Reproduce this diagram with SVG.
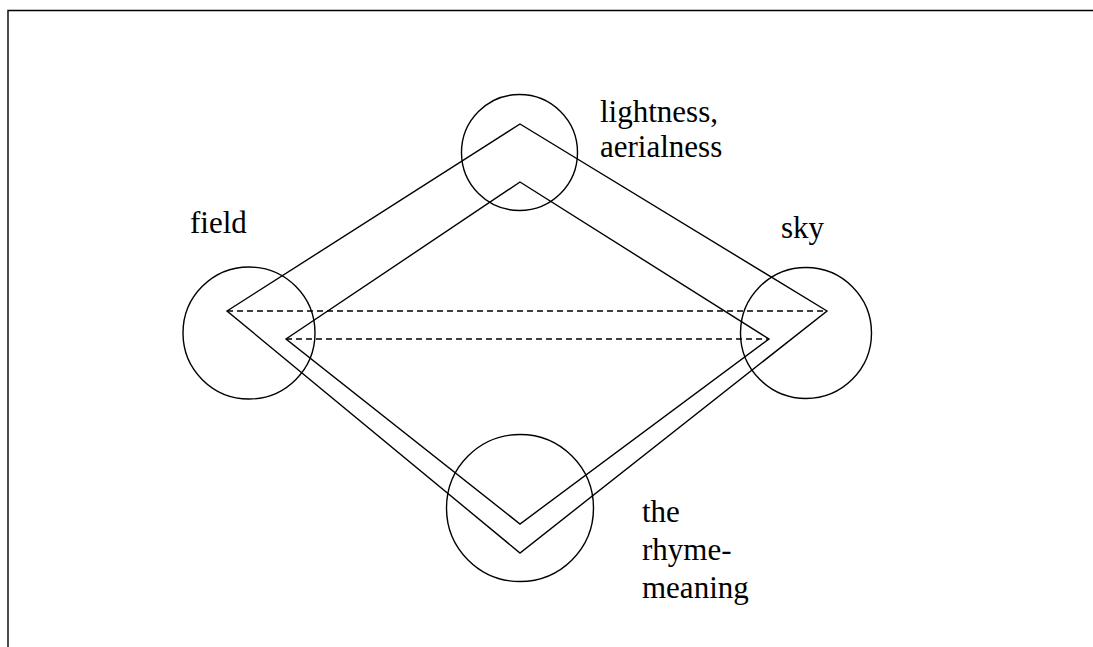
<svg xmlns="http://www.w3.org/2000/svg" width="1093" height="647" viewBox="0 0 1093 647">
<style>
.ln{fill:none;stroke:#000;stroke-width:1.4}
.ds{fill:none;stroke:#000;stroke-width:1.4;stroke-dasharray:6 4}
.t{font-family:"Liberation Serif","Times New Roman",serif;font-size:31px;fill:#000}
</style>
<rect width="1093" height="647" fill="#fff"/>
<path class="ln" d="M8,647 V10.5 H1093" stroke-width="1.8"/>
<g id="connectors">
<polygon class="ln" points="520,124 827,311 520,553 227,311"/>
<polygon class="ln" points="520,182 769,339 520,524 286,339"/>
<line class="ds" x1="227" y1="311" x2="827" y2="311"/>
<line class="ds" x1="286" y1="339" x2="769" y2="339"/>
</g>
<g id="node-top">
<circle class="ln" cx="519.5" cy="152.5" r="58"/>
<text class="t" x="600" y="122">lightness,</text>
<text class="t" x="600" y="157">aerialness</text>
</g>
<g id="node-left">
<circle class="ln" cx="249" cy="333" r="66"/>
<text class="t" x="190" y="233">field</text>
</g>
<g id="node-right">
<circle class="ln" cx="806" cy="333" r="65.5"/>
<text class="t" x="781" y="238">sky</text>
</g>
<g id="node-bottom">
<circle class="ln" cx="520" cy="508" r="73.5"/>
<text class="t" x="642" y="522">the</text>
<text class="t" x="642" y="560">rhyme-</text>
<text class="t" x="642" y="598">meaning</text>
</g>
</svg>
